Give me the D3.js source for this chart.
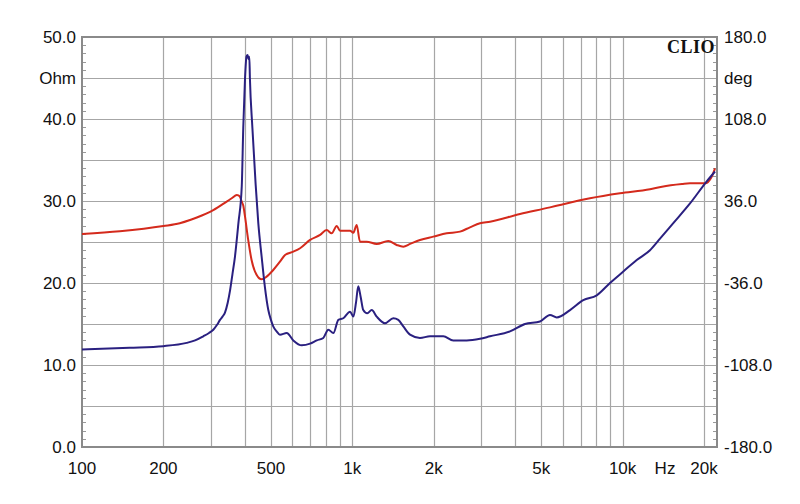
<!DOCTYPE html>
<html><head><meta charset="utf-8">
<script src="https://cdn.jsdelivr.net/npm/d3@7"></script>
<style>body{margin:0;background:#fff}svg{display:block}</style>
</head><body>
<script>
// Impedance magnitude (Ohm), left axis
const impFreq = [100,150,200,244,262,281,295,306,316,324,331,338,346,353,360,368,379,390,395,401,406,410,413,416,418,427,439,449,462,475,489,500,510,525,540,572,605,650,698,739,781,815,851,888,926,981,1009,1032,1052,1074,1098,1136,1180,1231,1321,1418,1480,1544,1635,1780,1939,2171,2364,2651,2968,3232,3832,4355,4948,5388,5705,6390,7155,8022,8981,10060,11278,12630,13754,15401,17760,20480,21978];
const impOhm  = [11.9,12.1,12.3,12.7,13.0,13.5,13.9,14.3,14.9,15.5,15.9,16.4,17.6,19.1,21.0,23.2,27.3,31.8,38.9,45.0,47.6,47.8,47.3,47.6,45.0,38.9,32.0,27.3,23.2,19.5,16.7,15.5,14.7,14.1,13.7,13.9,13.0,12.4,12.6,13.0,13.3,14.3,13.9,15.5,15.7,16.5,15.9,17.6,19.6,18.3,16.7,16.3,16.7,15.9,15.1,15.7,15.5,14.7,13.7,13.3,13.5,13.5,13.0,13.0,13.2,13.5,14.1,15.0,15.3,16.1,15.8,16.7,17.9,18.5,20.0,21.4,22.8,24.0,25.4,27.3,29.7,32.4,33.6];
// Phase (deg), right axis
const phFreq = [100,138,200,230,251,266,306,343,358,374,379,384,390,395,401,412,424,443,462,482,510,540,564,605,641,698,760,804,839,876,901,981,1009,1038,1068,1130,1231,1359,1460,1544,1635,1780,1994,2235,2503,2725,2968,3232,4173,5388,5867,7575,9781,12630,13988,16587,17760,20170,21360,21978];
const phDeg  = [7.0,9.4,14.0,16.5,19.3,21.5,28.0,35.5,38.4,41.3,41.0,39.8,35.4,32.0,22.2,1.8,-15.8,-29.0,-32.8,-30.4,-24.6,-17.3,-11.4,-8.5,-5.5,1.8,6.2,10.5,7.6,14.0,9.9,9.9,8.2,14.9,0.3,0.3,-1.7,0.9,-2.6,-4.1,-1.7,1.8,4.7,7.6,9.1,12.9,16.4,17.8,24.6,30.4,32.5,38.4,42.8,46.3,48.6,50.9,51.5,51.5,57.3,64.7];
const leftTicks = [0,10,20,30,40,50];
const rightTicks = [-180,-108,-36,36,108,180];
const xLabels = [[100,"100"],[200,"200"],[500,"500"],[1000,"1k"],[2000,"2k"],[5000,"5k"],[10000,"10k"],[20000,"20k"]];
const xGrid = [200,300,400,500,600,700,800,900,1000,2000,3000,4000,5000,6000,7000,8000,9000,10000,20000];

const W=800,H=504, L=82,R=717,T=37,B=447;
const svg=d3.select("body").append("svg").attr("width",W).attr("height",H);
const x=d3.scaleLog().domain([100,22350]).range([L,R]);
const y=d3.scaleLinear().domain([0,50]).range([B,T]);
const y2=d3.scaleLinear().domain([-180,180]).range([B,T]);
const font="'Liberation Sans', Arial, sans-serif";

// grid
const g=svg.append("g");
g.selectAll(".vg").data(xGrid).join("line").attr("x1",d=>Math.round(x(d))+0.5).attr("x2",d=>Math.round(x(d))+0.5)
 .attr("y1",T).attr("y2",B).attr("stroke","#a6a6a6").attr("stroke-width",1.2);
g.selectAll(".hg").data(d3.range(5,50,5)).join("line").attr("y1",d=>Math.round(y(d))+0.5).attr("y2",d=>Math.round(y(d))+0.5)
 .attr("x1",L).attr("x2",R).attr("stroke","#a6a6a6").attr("stroke-width",1.2);
// minor ticks
const minor=d3.range(1,50).filter(d=>d%5!==0);
g.selectAll(".lt").data(minor).join("line").attr("x1",L).attr("x2",L+4).attr("y1",d=>Math.round(y(d))+0.5).attr("y2",d=>Math.round(y(d))+0.5).attr("stroke","#999");
g.selectAll(".rt").data(minor).join("line").attr("x1",R-4).attr("x2",R).attr("y1",d=>Math.round(y(d))+0.5).attr("y2",d=>Math.round(y(d))+0.5).attr("stroke","#999");
// frame
svg.append("rect").attr("x",L).attr("y",T).attr("width",R-L).attr("height",B-T).attr("fill","none").attr("stroke","#8a8a8a").attr("stroke-width",2);

// curves
const lineImp=d3.line().x((d,i)=>x(impFreq[i])).y(d=>y(d)).curve(d3.curveMonotoneX);
const linePh=d3.line().x((d,i)=>x(phFreq[i])).y(d=>y2(d)).curve(d3.curveMonotoneX);
svg.append("path").attr("d",linePh(phDeg)).attr("fill","none").attr("stroke","#d42a1c").attr("stroke-width",2);
svg.append("path").attr("d",lineImp(impOhm)).attr("fill","none").attr("stroke","#2a2080").attr("stroke-width",2);

// labels
const txt=(xx,yy,s,anchor)=>svg.append("text").attr("x",xx).attr("y",yy).attr("text-anchor",anchor)
 .attr("dominant-baseline","central").attr("font-family",font).attr("font-size",17).attr("fill","#111").text(s);
leftTicks.forEach(d=>txt(76,y(d)+0.5,d.toFixed(1),"end"));
txt(76,78,"Ohm","end");
rightTicks.forEach(d=>txt(724,y2(d)+0.5,d.toFixed(1),"start"));
txt(724,78,"deg","start");
xLabels.forEach(([f,s])=>txt(x(f),468,s,"middle"));
txt(665,468,"Hz","middle");
svg.append("text").attr("x",715).attr("y",47).attr("text-anchor","end").attr("dominant-baseline","central")
 .attr("font-family","'Liberation Serif','DejaVu Serif',serif").attr("font-weight","bold").attr("font-size",18)
 .attr("letter-spacing",0.5).attr("fill","#111").text("CLIO");
</script>
</body></html>
